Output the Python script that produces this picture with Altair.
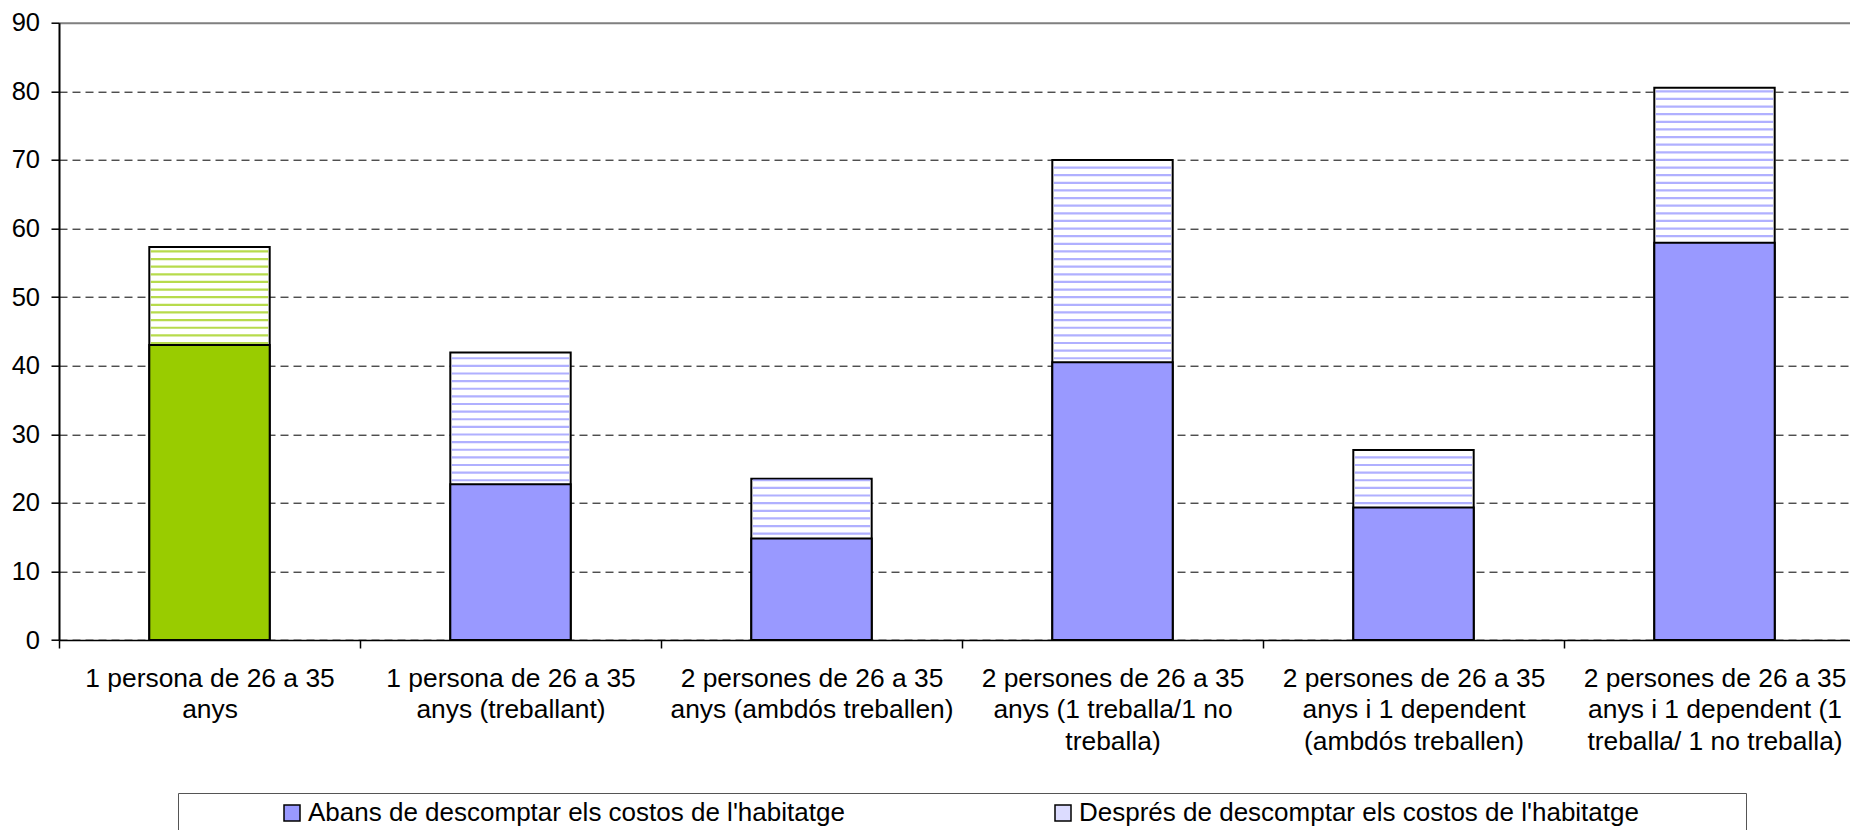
import altair as alt
import numpy as np
import pandas as pd

# ---- data ----
categories = [
    "1 persona de 26 a 35|anys",
    "1 persona de 26 a 35|anys (treballant)",
    "2 persones de 26 a 35|anys (ambdós treballen)",
    "2 persones de 26 a 35|anys (1 treballa/1 no|treballa)",
    "2 persones de 26 a 35|anys i 1 dependent|(ambdós treballen)",
    "2 persones de 26 a 35|anys i 1 dependent (1|treballa/ 1 no treballa)",
]
abans = [43.0, 22.7, 14.8, 40.5, 19.3, 57.9]
despres = [57.3, 41.9, 23.5, 70.0, 27.7, 80.5]
series = [
    "Abans de descomptar els costos de l'habitatge",
    "Després de descomptar els costos de l'habitatge",
]
y_ticks = [0, 10, 20, 30, 40, 50, 60, 70, 80, 90]

# ---- style ----
FONT = "Liberation Sans"
BLUE = "#9999FF"
STRIPE_BLUE = "#8F8FFF"
GREEN = "#99CC00"
VIEW_W = 1791          # visible plot width (page is 1858 wide)
RANGE_W = 1806         # the category axis continues past the right edge
PLOT_H = 617.3
BAR_FRAC = 0.4
HATCH_STEP = 1.112
HATCH_PHASE = 1.048

df = pd.DataFrame({
    "cat": categories,
    "idx": list(range(len(categories))),
    "abans": abans,
    "despres": despres,
    "serie_abans": series[0],
})

# horizontal hatch lines inside the upper ("Després") part of each bar
hatch_rows = []
for i, c in enumerate(categories):
    for h in np.arange(HATCH_PHASE, 90, HATCH_STEP):
        if abans[i] + 0.25 < h < despres[i] - 0.15:
            hatch_rows.append({"cat": c, "idx": i, "h": float(h)})
hatch = pd.DataFrame(hatch_rows)

x_enc = alt.X(
    "cat:N",
    sort=categories,
    scale=alt.Scale(domain=categories, range=[0, RANGE_W], paddingInner=0, paddingOuter=0),
    axis=alt.Axis(
        title=None,
        labelExpr="split(datum.label, '|')",
        labelAngle=0,
        labelFont=FONT,
        labelFontSize=26.4,
        labelLineHeight=31.5,
        labelColor="black",
        labelPadding=17,
        labelLimit=600,
        labelOverlap=False,
        tickBand="extent",
        tickSize=8,
        tickColor="black",
        tickWidth=1.5,
        domainColor="black",
        domainWidth=1.5,
        grid=False,
    ),
)

y_axis = alt.Axis(
    title=None,
    values=y_ticks,
    labelFont=FONT,
    labelFontSize=25.5,
    labelColor="black",
    labelPadding=11.5,
    tickSize=8,
    tickColor="black",
    tickWidth=1.5,
    domainColor="black",
    domainWidth=2,
    grid=True,
    gridColor={"condition": {"test": "datum.value >= 90", "value": "#808080"}, "value": "black"},
    gridWidth={"condition": {"test": "datum.value >= 90", "value": 2}, "value": 1},
    gridDash={"condition": {"test": "datum.value >= 90", "value": []}, "value": [8, 5]},
)
y_scale = alt.Scale(domain=[0, 90], nice=False)

# legend swatches: solid blue, and a pale blue standing in for the hatched swatch
fill_scale = alt.Scale(domain=series + ["hl"], range=[BLUE, "#DCDCFF", GREEN])
legend = alt.Legend(
    title=".",
    titleOrient="right",
    titleOpacity=0,
    titleFontSize=26,
    titlePadding=92,
    orient="none",
    legendX=119,
    legendY=770.3,
    direction="horizontal",
    columns=2,
    values=series,
    symbolType="square",
    symbolSize=256,
    symbolStrokeColor="black",
    symbolStrokeWidth=1.5,
    symbolOffset=94,
    labelOffset=3,
    labelFont=FONT,
    labelFontSize=26,
    labelColor="black",
    labelLimit=1200,
    columnPadding=111,
    padding=7,
    strokeColor="#555555",
)

despres_bars = alt.Chart(df).mark_bar(
    width=alt.RelativeBandSize(BAR_FRAC), stroke="black", strokeWidth=2, fill="white"
).encode(
    x=x_enc,
    y=alt.Y("despres:Q", scale=y_scale, axis=y_axis),
)

hatch_lines = alt.Chart(hatch).mark_tick(
    orient="horizontal", size=BAR_FRAC * RANGE_W / len(categories) - 3, thickness=2.2
).encode(
    x=x_enc,
    y=alt.Y("h:Q", scale=y_scale, axis=y_axis),
    color=alt.condition("datum.idx == 0", alt.value(GREEN), alt.value(STRIPE_BLUE)),
)

abans_bars = alt.Chart(df).transform_calculate(
    key="datum.idx == 0 ? 'hl' : datum.serie_abans"
).mark_bar(
    width=alt.RelativeBandSize(BAR_FRAC), stroke="black", strokeWidth=2
).encode(
    x=x_enc,
    y=alt.Y("abans:Q", scale=y_scale, axis=y_axis),
    fill=alt.Fill("key:N", scale=fill_scale, legend=legend),
)

chart = alt.layer(despres_bars, hatch_lines, abans_bars).properties(
    width=VIEW_W,
    height=PLOT_H,
    autosize=alt.AutoSizeParams(type="none"),
    padding={"left": 51, "top": 14.7, "right": 0, "bottom": 190},
).configure_view(
    stroke=None
).configure(
    background="white"
)

chart.save("out.html", embed_options={"renderer": "svg", "actions": False})
